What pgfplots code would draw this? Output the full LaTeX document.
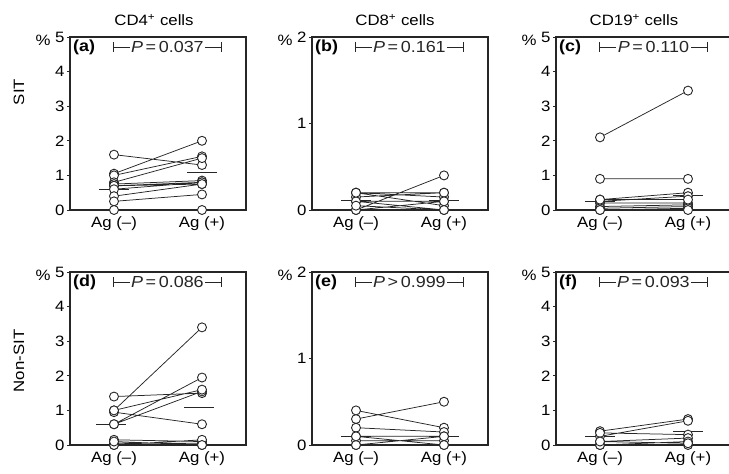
\documentclass[border=0pt]{standalone}
\usepackage{fontspec}
\setmainfont{Liberation Sans}[FakeStretch=1.12]
\usepackage{pgfplots}
\pgfplotsset{compat=1.18}
\usepackage{pgfplotstable}
\usetikzlibrary{arrows.meta}

% pairs: Ag(-) at x=0, Ag(+) at x=1, separated by nan rows
\pgfplotstableread{
x y
0 1.6
1 1.3
0.5 nan
0 1.05
1 2.0
0.5 nan
0 1.0
1 1.55
0.5 nan
0 0.8
1 1.5
0.5 nan
0 0.75
1 0.85
0.5 nan
0 0.7
1 0.8
0.5 nan
0 0.7
1 0.75
0.5 nan
0 0.6
1 0.8
0.5 nan
0 0.4
1 0.75
0.5 nan
0 0.25
1 0.45
0.5 nan
0 0.0
1 0.0
}\tabA

\pgfplotstableread{
x y
0 0.0
1 0.4
0.5 nan
0 0.2
1 0.2
0.5 nan
0 0.2
1 0.15
0.5 nan
0 0.15
1 0.2
0.5 nan
0 0.1
1 0.1
0.5 nan
0 0.1
1 0.0
0.5 nan
0 0.2
1 0.05
0.5 nan
0 0.0
1 0.1
0.5 nan
0 0.05
1 0.0
}\tabB

\pgfplotstableread{
x y
0 2.1
1 3.45
0.5 nan
0 0.9
1 0.9
0.5 nan
0 0.3
1 0.5
0.5 nan
0 0.25
1 0.4
0.5 nan
0 0.2
1 0.2
0.5 nan
0 0.1
1 0.15
0.5 nan
0 0.05
1 0.1
0.5 nan
0 0.0
1 0.05
0.5 nan
0 0.0
1 0.0
0.5 nan
0 0.3
1 0.3
}\tabC

\pgfplotstableread{
x y
0 1.0
1 3.4
0.5 nan
0 1.4
1 1.5
0.5 nan
0 0.95
1 0.6
0.5 nan
0 0.6
1 1.95
0.5 nan
0 0.6
1 1.55
0.5 nan
0 1.0
1 1.6
0.5 nan
0 0.15
1 0.1
0.5 nan
0 0.05
1 0.05
0.5 nan
0 0.0
1 0.0
0.5 nan
0 0.0
1 0.15
0.5 nan
0 0.1
1 0.0
}\tabD

\pgfplotstableread{
x y
0 0.3
1 0.5
0.5 nan
0 0.4
1 0.2
0.5 nan
0 0.2
1 0.15
0.5 nan
0 0.1
1 0.1
0.5 nan
0 0.0
1 0.0
0.5 nan
0 0.05
1 0.05
0.5 nan
0 0.0
1 0.1
0.5 nan
0 0.1
1 0.0
}\tabE

\pgfplotstableread{
x y
0 0.4
1 0.75
0.5 nan
0 0.25
1 0.7
0.5 nan
0 0.35
1 0.3
0.5 nan
0 0.1
1 0.2
0.5 nan
0 0.0
1 0.1
0.5 nan
0 0.0
1 0.0
0.5 nan
0 0.1
1 0.05
}\tabF

\newcommand{\fs}{\fontsize{15}{17}\selectfont}
\newcommand{\fp}{\fontsize{16}{18}\selectfont}

\pgfplotsset{
  panel/.style={
    scale only axis, width=176pt, height=173pt,
    xmin=-0.5, xmax=1.5, ymin=0,
    xtick={0,1}, xticklabels={Ag (--), Ag (+)},
    ytick pos=left, xtick pos=bottom,
    tick align=outside, major tick length=3pt,
    axis line style={line width=1.1pt, black!85},
    tick style={line width=0.9pt, black!85},
    ticklabel style={font=\fs},
    yticklabel style={xshift=1pt},
    /pgf/number format/assume math mode=true,
    xticklabel style={yshift=0pt},
    clip=false,
  },
  pairline/.style={black!85, line width=0.75pt, mark=none, unbounded coords=jump},
  pairmark/.style={only marks, mark=*, mark size=4.5pt,
    mark options={fill=white, draw=black!85, line width=0.9pt}, unbounded coords=discard},
  median/.style={black!85, line width=0.9pt, mark=none},
}

\newcommand{\pbar}[1]{%
  \draw[{Bar[width=10pt]}-{Bar[width=10pt]}, line width=0.9pt, black!85]
    (rel axis cs:0.245,0.942) -- node[fill=white, inner sep=1.5pt, font=\fp]{#1}
    (rel axis cs:0.862,0.942);}
\newcommand{\plabel}[1]{%
  \node[anchor=north west, font=\fp\bfseries, inner sep=0pt] at ([xshift=3pt,yshift=-3pt]rel axis cs:0,1) {(#1)};}
\newcommand{\pct}{%
  \node[font=\fs] at ([xshift=-27pt,yshift=-3pt]rel axis cs:0,1) {\%};}

\begin{document}
\begin{tikzpicture}
\useasboundingbox (0,0) rectangle (729pt,-474pt);

% column titles and row labels
\node[font=\fs] at (154pt,-20pt) {CD4\textsuperscript{+} cells};
\node[font=\fs] at (395pt,-20pt) {CD8\textsuperscript{+} cells};
\node[font=\fs] at (634pt,-20pt) {CD19\textsuperscript{+} cells};
\node[font=\fs, rotate=90] at (19pt,-92pt) {SIT};
\node[font=\fs, rotate=90] at (19pt,-361pt) {Non-SIT};

% (a)
\begin{axis}[panel, anchor=south west, at={(70pt,-210pt)}, ymax=5, ytick={0,1,2,3,4,5}]
\addplot[pairline] table {\tabA};
\addplot[median] coordinates {(-0.17,0.6) (0.17,0.6)};
\addplot[median] coordinates {(0.83,1.08) (1.17,1.08)};
\addplot[pairmark] table {\tabA};
\plabel{a}\pbar{\textit{P}\,=\,0.037}\pct
\end{axis}

% (b)
\begin{axis}[panel, anchor=south west, at={(312pt,-210pt)}, ymax=2, ytick={0,1,2}]
\addplot[pairline] table {\tabB};
\addplot[median] coordinates {(-0.17,0.11) (0.17,0.11)};
\addplot[median] coordinates {(0.83,0.11) (1.17,0.11)};
\addplot[pairmark] table {\tabB};
\plabel{b}\pbar{\textit{P}\,=\,0.161}\pct
\end{axis}

% (c)
\begin{axis}[panel, anchor=south west, at={(556pt,-210pt)}, ymax=5, ytick={0,1,2,3,4,5}]
\addplot[pairline] table {\tabC};
\addplot[median] coordinates {(-0.17,0.25) (0.17,0.25)};
\addplot[median] coordinates {(0.83,0.42) (1.17,0.42)};
\addplot[pairmark] table {\tabC};
\plabel{c}\pbar{\textit{P}\,=\,0.110}\pct
\end{axis}

% (d)
\begin{axis}[panel, anchor=south west, at={(70pt,-445pt)}, ymax=5, ytick={0,1,2,3,4,5}]
\addplot[pairline] table {\tabD};
\addplot[median] coordinates {(-0.2,0.6) (0.14,0.6)};
\addplot[median] coordinates {(0.8,1.08) (1.14,1.08)};
\addplot[pairmark] table {\tabD};
\plabel{d}\pbar{\textit{P}\,=\,0.086}\pct
\end{axis}

% (e)
\begin{axis}[panel, anchor=south west, at={(312pt,-445pt)}, ymax=2, ytick={0,1,2}]
\addplot[pairline] table {\tabE};
\addplot[median] coordinates {(-0.17,0.1) (0.17,0.1)};
\addplot[median] coordinates {(0.83,0.1) (1.17,0.1)};
\addplot[pairmark] table {\tabE};
\plabel{e}\pbar{\textit{P}\,>\,0.999}\pct
\end{axis}

% (f)
\begin{axis}[panel, anchor=south west, at={(556pt,-445pt)}, ymax=5, ytick={0,1,2,3,4,5}]
\addplot[pairline] table {\tabF};
\addplot[median] coordinates {(-0.17,0.25) (0.17,0.25)};
\addplot[median] coordinates {(0.83,0.4) (1.17,0.4)};
\addplot[pairmark] table {\tabF};
\plabel{f}\pbar{\textit{P}\,=\,0.093}\pct
\end{axis}
\end{tikzpicture}
\end{document}
